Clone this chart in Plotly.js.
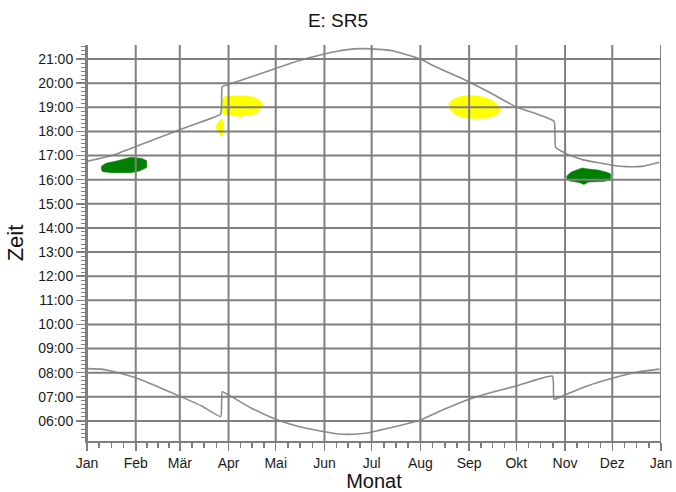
<!DOCTYPE html>
<html>
<head>
<meta charset="utf-8">
<script src="https://cdn.plot.ly/plotly-3.0.1.min.js"></script>
<style>html,body{margin:0;padding:0;background:#fff;}#chart{width:676px;height:492px;}</style>
</head>
<body>
<div id="chart"></div>
<script>
// ---- tick labels ----
const monthLabels = ['Jan','Feb','Mär','Apr','Mai','Jun','Jul','Aug','Sep','Okt','Nov','Dez','Jan'];
const monthDates = ['2021-01-01','2021-02-01','2021-03-01','2021-04-01','2021-05-01','2021-06-01','2021-07-01','2021-08-01','2021-09-01','2021-10-01','2021-11-01','2021-12-01','2022-01-01'];
const hourVals = [6,7,8,9,10,11,12,13,14,15,16,17,18,19,20,21];
const hourLabels = ['06:00','07:00','08:00','09:00','10:00','11:00','12:00','13:00','14:00','15:00','16:00','17:00','18:00','19:00','20:00','21:00'];

// ---- sunset curve ----
const sunsetDates = ['2021-01-01','2021-01-17','2021-02-01','2021-02-26','2021-03-15','2021-03-27','2021-03-28','2021-04-01','2021-04-15','2021-05-01','2021-05-15','2021-06-01','2021-06-10','2021-06-20','2021-07-01','2021-07-10','2021-07-15','2021-08-01','2021-08-10','2021-09-01','2021-09-15','2021-10-01','2021-10-15','2021-10-25','2021-10-26','2021-11-01','2021-11-12','2021-12-01','2021-12-10','2021-12-20','2021-12-31'];
const sunsetHours = [16.76,17.00,17.37,18.00,18.40,18.72,19.85,19.95,20.25,20.61,20.92,21.21,21.33,21.42,21.42,21.38,21.33,21.00,20.70,20.05,19.58,19.01,18.70,18.42,17.35,17.10,16.83,16.60,16.54,16.55,16.72];

// ---- sunrise curve ----
const sunriseDates = ['2021-01-01','2021-01-10','2021-01-17','2021-02-01','2021-02-15','2021-03-01','2021-03-15','2021-03-27','2021-03-28','2021-04-01','2021-04-15','2021-05-01','2021-05-15','2021-06-01','2021-06-10','2021-06-20','2021-06-28','2021-07-05','2021-07-15','2021-08-01','2021-08-15','2021-09-01','2021-09-15','2021-10-01','2021-10-24','2021-10-25','2021-11-01','2021-11-15','2021-12-01','2021-12-18','2021-12-31'];
const sunriseHours = [8.17,8.15,8.06,7.79,7.42,7.03,6.62,6.18,7.21,7.08,6.55,6.07,5.78,5.55,5.46,5.45,5.50,5.60,5.75,6.04,6.45,6.90,7.18,7.45,7.86,6.90,7.08,7.45,7.77,8.04,8.15];

// ---- glare periods (outlines) ----
const greenJanDates = ['2021-01-10','2021-01-13','2021-01-19','2021-01-25','2021-01-29','2021-02-05','2021-02-08','2021-02-08','2021-02-03','2021-01-29','2021-01-17','2021-01-11','2021-01-10'];
const greenJanHours = [16.55,16.68,16.76,16.88,16.93,16.88,16.78,16.50,16.35,16.29,16.29,16.33,16.42];

const yellowMarSmallDates = ['2021-03-27','2021-03-28 12:00','2021-03-29','2021-03-28 12:00','2021-03-27 12:00','2021-03-25 12:00','2021-03-24','2021-03-25'];
const yellowMarSmallHours = [18.50,18.45,18.20,17.85,17.78,17.95,18.15,18.35];

const yellowAprDates = ['2021-03-28','2021-03-29','2021-04-01','2021-04-10','2021-04-17','2021-04-21','2021-04-23','2021-04-21','2021-04-18','2021-04-10','2021-04-08','2021-04-06','2021-03-30','2021-03-28'];
const yellowAprHours = [19.30,19.42,19.47,19.48,19.42,19.28,19.10,18.90,18.72,18.66,18.58,18.66,18.68,18.75];

const yellowSepDates = ['2021-08-19','2021-08-21','2021-08-26','2021-09-01','2021-09-09','2021-09-15','2021-09-20','2021-09-21','2021-09-18','2021-09-13','2021-09-05','2021-08-29','2021-08-23','2021-08-20'];
const yellowSepHours = [19.10,19.30,19.45,19.50,19.45,19.30,19.05,18.88,18.68,18.56,18.53,18.56,18.70,18.90];

const greenNovDates = ['2021-11-02','2021-11-05','2021-11-09','2021-11-12','2021-11-16','2021-11-22','2021-11-27','2021-11-30','2021-11-30','2021-11-25','2021-11-16','2021-11-13','2021-11-10','2021-11-04','2021-11-02'];
const greenNovHours = [16.15,16.32,16.42,16.48,16.44,16.40,16.32,16.24,15.98,15.92,15.90,15.80,15.88,15.94,16.04];

const GRID = '#7f7f7f';
const CURVE = '#8c8c8c';
const YELLOW = '#ffff00';
const GREEN = '#007f00';

function blob(x, y, color) {
  return {x: x, y: y, type: 'scatter', mode: 'lines', fill: 'toself', fillcolor: color,
          line: {width: 0.5, color: color}, hoverinfo: 'skip', showlegend: false};
}

const traces = [
  blob(greenJanDates, greenJanHours, GREEN),
  blob(yellowMarSmallDates, yellowMarSmallHours, YELLOW),
  blob(yellowAprDates, yellowAprHours, YELLOW),
  blob(yellowSepDates, yellowSepHours, YELLOW),
  blob(greenNovDates, greenNovHours, GREEN),
  {x: sunsetDates, y: sunsetHours, type: 'scatter', mode: 'lines', line: {color: CURVE, width: 1.6, shape: 'spline', smoothing: 0.4}, showlegend: false},
  {x: sunriseDates, y: sunriseHours, type: 'scatter', mode: 'lines', line: {color: CURVE, width: 1.6, shape: 'spline', smoothing: 0.4}, showlegend: false}
];

// minor month ticks: 3 per month
const minorX = [];
for (let i = 0; i < monthDates.length - 1; i++) {
  const a = new Date(monthDates[i] + 'T00:00:00Z').getTime();
  const b = new Date(monthDates[i + 1] + 'T00:00:00Z').getTime();
  for (let k = 1; k <= 3; k++) {
    minorX.push(new Date(a + (b - a) * k / 4).toISOString().slice(0, 19).replace('T', ' '));
  }
}

// grid lines drawn above the coloured areas, from the tick arrays
const shapes = [];
monthDates.forEach(d => shapes.push({type: 'line', xref: 'x', yref: 'paper', x0: d, x1: d, y0: 0, y1: 1, layer: 'above', line: {color: GRID, width: 2}}));
hourVals.forEach(h => shapes.push({type: 'line', xref: 'paper', yref: 'y', x0: 0, x1: 1, y0: h, y1: h, layer: 'above', line: {color: GRID, width: 2}}));

const FONT = 'Liberation Sans, Arial, sans-serif';

const layout = {
  width: 676, height: 492,
  margin: {l: 87, r: 15, t: 45, b: 51},
  paper_bgcolor: '#ffffff', plot_bgcolor: '#ffffff',
  font: {family: FONT, color: '#1a1a1a', size: 14},
  title: {text: 'E: SR5', font: {family: FONT, size: 19, color: '#111'}, x: 0.5, xref: 'container', xanchor: 'center', y: 0.958, yref: 'container', yanchor: 'middle'},
  showlegend: false,
  xaxis: {
    type: 'date', range: ['2021-01-01', '2022-01-01'],
    tickmode: 'array', tickvals: monthDates, ticktext: monthLabels,
    ticks: 'outside', ticklen: 8, tickwidth: 1.5, tickcolor: GRID,
    showline: true, linecolor: GRID, linewidth: 2,
    showgrid: false, zeroline: false,
    tickfont: {family: FONT, size: 14, color: '#1a1a1a'},
    minor: {tickmode: 'array', tickvals: minorX, ticks: 'outside', ticklen: 5, tickwidth: 1.5, tickcolor: GRID, showgrid: false},
    title: {text: 'Monat', font: {family: FONT, size: 20, color: '#111'}, standoff: 13}
  },
  yaxis: {
    range: [5.17, 21.58],
    tickmode: 'array', tickvals: hourVals, ticktext: hourLabels,
    ticks: 'outside', ticklen: 9, tickwidth: 1.5, tickcolor: GRID,
    showline: true, linecolor: GRID, linewidth: 2,
    showgrid: false, zeroline: false,
    tickfont: {family: FONT, size: 14, color: '#1a1a1a'},
    minor: {tickmode: 'linear', tick0: 0, dtick: 1/6, ticks: 'outside', ticklen: 4, tickwidth: 1, tickcolor: GRID, showgrid: false},
    title: {text: 'Zeit', font: {family: FONT, size: 22, color: '#111'}, standoff: 8}
  },
  shapes: shapes
};

Plotly.newPlot('chart', traces, layout, {displayModeBar: false, staticPlot: true});
</script>
</body>
</html>
